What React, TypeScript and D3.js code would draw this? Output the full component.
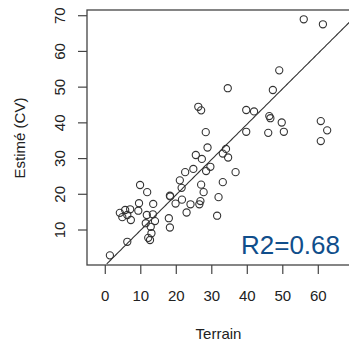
import React from "react";
import * as d3 from "d3";

const terrain = [
  55.9, 61.3, 49.0, 34.5, 47.2, 26.2, 27.0, 39.7, 41.9, 46.2, 46.5, 49.7, 60.7, 62.5, 60.7,
  28.3, 39.7, 45.9, 50.3, 28.8, 34.0, 33.1, 34.6, 25.5, 27.2, 22.5, 24.8, 28.4, 29.6, 36.7,
  21.0, 21.5, 27.0, 27.7, 33.1, 31.9, 18.2, 18.3, 19.8, 21.6, 24.0, 26.8, 26.5, 22.9, 31.5,
  9.8, 11.8, 9.5, 13.5, 4.1, 5.6, 7.0, 4.8, 6.2, 7.2, 9.3, 13.4, 11.7, 14.0, 11.4, 12.8,
  17.9, 18.2, 13.0, 12.1, 12.6, 6.2, 1.3,
];
const estime = [
  69.0, 67.6, 54.7, 49.7, 49.2, 44.5, 43.5, 43.6, 43.2, 41.9, 41.3, 40.1, 40.5, 37.9, 34.9,
  37.4, 37.5, 37.2, 37.5, 33.1, 32.7, 31.4, 30.3, 31.0, 29.9, 26.2, 27.1, 26.5, 27.7, 26.2,
  23.9, 21.8, 22.7, 20.6, 23.4, 19.2, 19.6, 19.4, 17.4, 18.5, 17.2, 18.1, 17.2, 14.9, 14.0,
  22.6, 20.6, 17.5, 17.3, 14.8, 15.6, 15.8, 13.6, 14.2, 12.8, 15.4, 14.4, 14.2, 12.5, 11.9, 10.9,
  13.3, 10.7, 9.1, 7.8, 7.2, 6.7, 2.9,
];
const xTicks = [0, 10, 20, 30, 40, 50, 60];
const yTicks = [10, 20, 30, 40, 50, 60, 70];
const lineCoef = [0.1, 0.99]; // intercept, slope
const r2Label = "R2=0.68";
const xLabel = "Terrain";
const yLabel = "Estimé (CV)";

const W = 349;
const H = 342;
const L = 87, R = 350, T = 10, B = 265;
const font = "'Liberation Sans', Arial, Helvetica, sans-serif";

export default function App() {
  const x = d3.scaleLinear().domain([-5.15, 68.93]).range([L, R]);
  const y = d3.scaleLinear().domain([0.2, 71.6]).range([B, T]);
  const [x0, x1] = x.domain();
  const f = (v: number) => lineCoef[0] + lineCoef[1] * v;
  const xs = d3.range(0, 201).map((i) => x0 + ((x1 - x0) * i) / 200);
  const [y0, y1] = y.domain();
  const pts = xs.filter((v) => f(v) >= y0 && f(v) <= y1);
  const line = d3
    .line<number>()
    .x((v) => x(v))
    .y((v) => y(f(v)));

  return (
    <svg
      width={W}
      height={H}
      style={{ position: "absolute", left: 0, top: 0, background: "#fff" }}
      fontFamily={font}
    >
      <rect x={0} y={0} width={W} height={H} fill="#fff" />
      <path d={line(pts) || ""} fill="none" stroke="#333" strokeWidth={1.1} />
      {terrain.map((tv, i) => (
        <circle
          key={i}
          cx={x(tv)}
          cy={y(estime[i])}
          r={3.6}
          fill="none"
          stroke="#333"
          strokeWidth={1.1}
        />
      ))}
      <rect x={L} y={T} width={R - L} height={B - T} fill="none" stroke="#444" strokeWidth={1.3} />
      {xTicks.map((t) => (
        <g key={"x" + t}>
          <line x1={x(t)} x2={x(t)} y1={B} y2={B + 9} stroke="#444" strokeWidth={1.2} />
          <text x={x(t)} y={301} textAnchor="middle" fontSize={15} fill="#222">
            {t}
          </text>
        </g>
      ))}
      {yTicks.map((t) => (
        <g key={"y" + t}>
          <line x1={L - 9} x2={L} y1={y(t)} y2={y(t)} stroke="#444" strokeWidth={1.2} />
          <text
            x={65}
            y={y(t)}
            textAnchor="middle"
            fontSize={15}
            fill="#222"
            transform={`rotate(-90 65 ${y(t)})`}
          >
            {t}
          </text>
        </g>
      ))}
      <text x={218.5} y={338.5} textAnchor="middle" fontSize={15} fill="#222">
        {xLabel}
      </text>
      <text
        x={25}
        y={138}
        textAnchor="middle"
        fontSize={15}
        fill="#222"
        transform="rotate(-90 25 138)"
      >
        {yLabel}
      </text>
      <text x={340} y={254} textAnchor="end" fontSize={26} fill="#104E8B">
        {r2Label}
      </text>
    </svg>
  );
}
